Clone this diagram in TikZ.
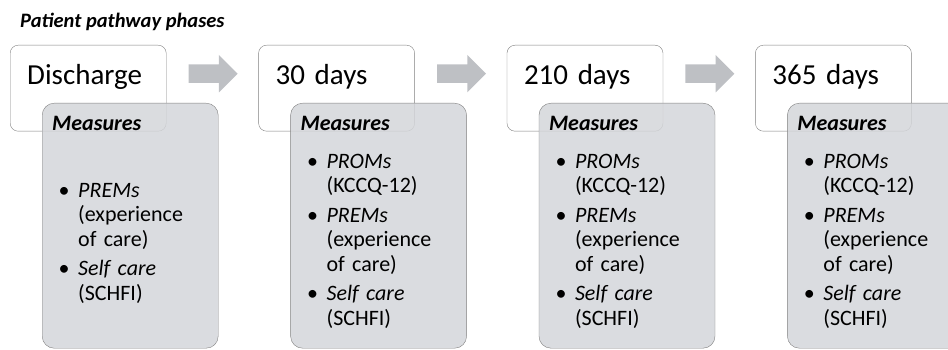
\documentclass[tikz,border=0pt]{standalone}
\usepackage{fontspec}
\setmainfont{Carlito}
\usetikzlibrary{positioning,shapes.arrows}

\definecolor{boxline}{RGB}{128,128,128}
\definecolor{measfill}{RGB}{212,214,218}
\definecolor{arrowfill}{RGB}{190,192,196}

\tikzstyle{phasebox} = [rectangle, draw=boxline, fill=white, rounded corners=8pt,
    inner xsep=17pt, inner ysep=0pt, text width=122pt, align=left,
    text height=39pt, text depth=47pt, font=\fontsize{29}{32}\selectfont]
\tikzstyle{measbox} = [rectangle, draw=boxline, fill=measfill, fill opacity=0.85,
    text opacity=1, rounded corners=12pt, inner xsep=10pt, inner ysep=0pt,
    text width=156pt, align=left, text height=27pt, text depth=218pt,
    font=\fontsize{22}{24.5}\selectfont]
\tikzstyle{phasearrow} = [single arrow, fill=arrowfill, draw=none, inner xsep=0pt,
    inner ysep=9pt, minimum height=49pt, single arrow head extend=9.5pt]

\newcommand{\meashead}{\textbf{\textit{Measures}}\par}
\newcommand{\measitem}[2]{\par\vspace{5pt}\hangindent=26pt\hangafter=1\noindent
    \makebox[26pt][l]{\makebox[24pt][c]{\textbullet}}\textit{#1}\newline #2\par}

\begin{document}
\begin{tikzpicture}[x=1pt, y=-1pt]
    \useasboundingbox (0,0) rectangle (948,350);

    % Title
    \node [anchor=base west, inner sep=0pt, font=\bfseries\itshape\fontsize{20.5}{24}\selectfont] (title) at (20,28) {Patient pathway phases};

    % Phases
    \node [phasebox, anchor=north west] (discharge) at (10,45) {Discharge};
    \node [phasebox, right=92pt of discharge] (d30) {30 days};
    \node [phasebox, right=92pt of d30] (d210) {210 days};
    \node [phasebox, right=92pt of d210] (d365) {365 days};

    % Measures
    \node [measbox, below right=58pt and 32pt of discharge.north west] (mdischarge) {\meashead\vspace{37.5pt}%
        \measitem{PREMs}{(experience\newline of care)}\measitem{Self care}{(SCHFI)}};
    \node [measbox, below right=58pt and 32pt of d30.north west] (m30) {\meashead\vspace{8.5pt}%
        \measitem{PROMs}{(KCCQ-12)}\measitem{PREMs}{(experience\newline of care)}\measitem{Self care}{(SCHFI)}};
    \node [measbox, below right=58pt and 32pt of d210.north west] (m210) {\meashead\vspace{8.5pt}%
        \measitem{PROMs}{(KCCQ-12)}\measitem{PREMs}{(experience\newline of care)}\measitem{Self care}{(SCHFI)}};
    \node [measbox, below right=58pt and 32pt of d365.north west] (m365) {\meashead\vspace{8.5pt}%
        \measitem{PROMs}{(KCCQ-12)}\measitem{PREMs}{(experience\newline of care)}\measitem{Self care}{(SCHFI)}};

    % Arrows
    \node [phasearrow, right=22pt of discharge.east, yshift=14.5pt] (a1) {};
    \node [phasearrow, right=22pt of d30.east, yshift=14.5pt] (a2) {};
    \node [phasearrow, right=22pt of d210.east, yshift=14.5pt] (a3) {};

\end{tikzpicture}
\end{document}
